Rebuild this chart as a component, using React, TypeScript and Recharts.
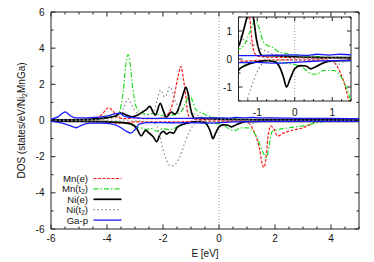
import React from 'react';
import { LineChart, Line, XAxis, YAxis, ReferenceLine, ReferenceArea } from 'recharts';

type Pt = [number, number];

// energy [eV], DOS [states/eV/Ni2MnGa]; "Up" = majority (positive), "Dn" = minority (negative)
const mnEUp: Pt[] = [
  [-6, 0.03], [-5, 0.05], [-4.5, 0.1], [-4.2, 0.3], [-3.95, 0.7], [-3.8, 0.55], [-3.6, 0.15],
  [-3.3, 0.1], [-3.0, 0.15], [-2.6, 0.1], [-2.2, 0.1], [-1.95, 0.2], [-1.8, 0.4], [-1.68, 0.8],
  [-1.57, 1.6], [-1.45, 2.5], [-1.36, 3.0], [-1.28, 2.4], [-1.2, 1.5], [-1.13, 0.55],
  [-1.07, 0.2], [-0.9, 0.08], [-0.5, 0.06], [0, 0.05], [1, 0.03], [5, 0.02],
];
const mnEDn: Pt[] = [
  [-6, -0.02], [-4, -0.05], [-3.6, -0.15], [-3.3, -0.12], [-3, -0.08], [-2, -0.08], [-1.5, -0.08],
  [-1, -0.05], [0, -0.03], [0.5, -0.03], [0.95, -0.05], [1.1, -0.2], [1.22, -0.5], [1.35, -1.0],
  [1.45, -1.6], [1.53, -2.3], [1.6, -2.6], [1.67, -2.2], [1.75, -0.9], [1.85, -0.3], [1.95, -0.45],
  [2.1, -0.86], [2.3, -0.7], [2.6, -0.55], [3.0, -0.4], [3.3, -0.2], [3.5, -0.05], [5, -0.02],
];
const mnT2Up: Pt[] = [
  [-6, 0.03], [-5, 0.05], [-4.3, 0.1], [-4.0, 0.2], [-3.7, 0.25], [-3.55, 0.5], [-3.42, 1.6],
  [-3.3, 3.4], [-3.25, 3.65], [-3.18, 3.2], [-3.08, 1.8], [-2.97, 0.8], [-2.85, 0.5], [-2.7, 0.4],
  [-2.5, 0.35], [-2.3, 0.4], [-2.1, 0.3], [-1.9, 0.25], [-1.7, 0.3], [-1.5, 0.35], [-1.35, 0.5],
  [-1.2, 0.95], [-1.05, 1.38], [-0.95, 1.1], [-0.85, 0.65], [-0.75, 0.5], [-0.6, 0.42],
  [-0.45, 0.28], [-0.25, 0.2], [0, 0.12], [0.5, 0.1], [1, 0.06], [2, 0.05], [3, 0.04], [5, 0.03],
];
const mnT2Dn: Pt[] = [
  [-6, -0.02], [-4, -0.05], [-3.5, -0.1], [-3.2, -0.2], [-3.0, -0.35], [-2.8, -0.4], [-2.6, -0.5],
  [-2.4, -0.45], [-2.2, -0.6], [-2.0, -0.45], [-1.8, -0.5], [-1.6, -0.45], [-1.5, -0.35],
  [-1.3, -0.2], [-1.0, -0.1], [-0.75, -0.06], [-0.5, -0.1], [-0.2, -0.15], [0, -0.2], [0.2, -0.3],
  [0.4, -0.5], [0.57, -0.55], [0.78, -0.41], [1.04, -0.41], [1.22, -0.6], [1.39, -1.06],
  [1.55, -1.7], [1.7, -2.05], [1.8, -1.3], [1.9, -0.6], [2.1, -0.5], [2.5, -0.4], [3.0, -0.3],
  [3.5, -0.12], [4, -0.03], [5, -0.02],
];
const niEUp: Pt[] = [
  [-6, 0.03], [-5, 0.05], [-4.5, 0.08], [-4, 0.15], [-3.7, 0.25], [-3.5, 0.42], [-3.3, 0.3],
  [-3.1, 0.2], [-2.9, 0.3], [-2.75, 0.45], [-2.6, 0.6], [-2.47, 0.78], [-2.35, 0.45],
  [-2.27, 0.3], [-2.1, 0.95], [-1.98, 0.5], [-1.88, 0.18], [-1.7, 0.47], [-1.58, 0.35],
  [-1.47, 0.55], [-1.35, 1.1], [-1.25, 1.6], [-1.18, 1.85], [-1.1, 1.45], [-1.02, 0.7],
  [-0.95, 0.3], [-0.87, 0.12], [-0.6, 0.12], [-0.3, 0.1], [0, 0.08], [0.5, 0.06], [1, 0.05],
  [2, 0.05], [3, 0.04], [5, 0.02],
];
const niEDn: Pt[] = [
  [-6, -0.03], [-5, -0.05], [-4, -0.08], [-3.5, -0.1], [-3.3, -0.15], [-3.12, -0.2],
  [-2.94, -0.43], [-2.78, -0.85], [-2.62, -0.55], [-2.48, -0.72], [-2.35, -0.9], [-2.23, -1.17],
  [-2.1, -0.75], [-1.98, -0.6], [-1.87, -0.75], [-1.75, -0.65], [-1.62, -0.7], [-1.5, -0.4],
  [-1.3, -0.22], [-1.0, -0.1], [-0.7, -0.06], [-0.5, -0.12], [-0.38, -0.35], [-0.3, -0.65],
  [-0.22, -1.0], [-0.12, -0.7], [0, -0.35], [0.15, -0.24], [0.3, -0.25], [0.43, -0.35],
  [0.6, -0.25], [0.8, -0.12], [1.0, -0.07], [1.5, -0.05], [3, -0.05], [5, -0.05],
];
const niT2Up: Pt[] = [
  [-6, 0.02], [-4.5, 0.05], [-3.8, 0.12], [-3.55, 0.25], [-3.4, 0.7], [-3.25, 1.2], [-3.1, 0.8],
  [-2.95, 0.45], [-2.8, 0.35], [-2.6, 0.3], [-2.45, 0.35], [-2.3, 0.6], [-2.2, 1.2],
  [-2.08, 1.68], [-1.95, 1.3], [-1.85, 1.5], [-1.76, 1.87], [-1.65, 1.5], [-1.57, 1.1],
  [-1.45, 0.8], [-1.3, 0.65], [-1.05, 0.47], [-0.8, 0.3], [-0.45, 0.12], [0, 0.05], [1, 0.03],
  [5, 0.02],
];
const niT2Dn: Pt[] = [
  [-6, -0.02], [-3, -0.03], [-2.4, -0.08], [-2.25, -0.2], [-2.12, -0.8], [-2.0, -1.6],
  [-1.87, -2.2], [-1.75, -2.5], [-1.62, -2.5], [-1.52, -2.35], [-1.4, -2.0], [-1.26, -1.41],
  [-1.1, -0.77], [-0.91, -0.24], [-0.7, -0.06], [-0.3, -0.04], [0.8, -0.05], [1.0, -0.1],
  [1.15, -0.2], [1.3, -0.1], [1.6, -0.05], [5, -0.02],
];
const gaUp: Pt[] = [
  [-6, 0.08], [-5.75, 0.2], [-5.5, 0.48], [-5.3, 0.25], [-5.1, 0.15], [-4.8, 0.15], [-4.5, 0.17],
  [-4.2, 0.2], [-3.9, 0.28], [-3.7, 0.38], [-3.55, 0.4], [-3.4, 0.25], [-3.2, 0.18], [-3.0, 0.15],
  [-2.5, 0.12], [-2, 0.12], [-1.5, 0.12], [-1, 0.12], [-0.5, 0.14], [0, 0.15], [0.3, 0.13],
  [0.6, 0.17], [0.9, 0.14], [1.2, 0.17], [1.5, 0.15], [2, 0.15], [3, 0.12], [4, 0.12], [5, 0.1],
];
const gaDn: Pt[] = [
  [-6, -0.05], [-5.6, -0.15], [-5.3, -0.3], [-5.1, -0.4], [-4.9, -0.25], [-4.6, -0.15],
  [-4.2, -0.15], [-3.8, -0.2], [-3.5, -0.4], [-3.3, -0.6], [-3.15, -0.7], [-3.0, -0.5],
  [-2.85, -0.2], [-2.5, -0.12], [-2, -0.12], [-1.5, -0.13], [-1, -0.12], [-0.5, -0.15],
  [0, -0.12], [0.5, -0.08], [1, -0.06], [2, -0.05], [3, -0.05], [5, -0.05],
];

const mainXTicks = [-6, -5.5, -5, -4.5, -4, -3.5, -3, -2.5, -2, -1.5, -1, -0.5, 0, 0.5, 1, 1.5, 2, 2.5, 3, 3.5, 4, 4.5, 5];
const mainXLabels = [-6, -4, -2, 0, 2, 4];
const mainYTicks = [-6, -5, -4, -3, -2, -1, 0, 1, 2, 3, 4, 5, 6];
const mainYLabels = [-6, -4, -2, 0, 2, 4, 6];
const insetXTicks = [-1.5, -1.25, -1, -0.75, -0.5, -0.25, 0, 0.25, 0.5, 0.75, 1, 1.25, 1.5];
const insetYTicks = [-1.5, -1, -0.5, 0, 0.5, 1, 1.5];
const insetLabels = [-1, 0, 1];

const series = [
  { name: 'Mn(e)', sub: '', up: mnEUp, dn: mnEDn, color: '#ff1a1a', width: 1.2, dash: '3 1.5' },
  { name: 'Mn(t', sub: '2', up: mnT2Up, dn: mnT2Dn, color: '#22dd22', width: 1.2, dash: '5 2 1.5 2' },
  { name: 'Ni(e)', sub: '', up: niEUp, dn: niEDn, color: '#000000', width: 1.7, dash: undefined },
  { name: 'Ni(t', sub: '2', up: niT2Up, dn: niT2Dn, color: '#888888', width: 1.2, dash: '1.5 2.5' },
  { name: 'Ga-p', sub: '', up: gaUp, dn: gaDn, color: '#1a1aff', width: 1.3, dash: undefined },
];

const FONT = '"Liberation Sans", Arial, Helvetica, sans-serif';
const FRAME = '#222';

const toPts = (arr: Pt[]) => arr.map(([e, v]) => ({ e, v }));

function xTick(top: number, bottom: number, labelY: number, labels: number[], major: number, minor: number) {
  return (p: any) => {
    const v = p.payload.value;
    const isMajor = labels.includes(v);
    const len = isMajor ? major : minor;
    return (
      <g>
        <line x1={p.x} x2={p.x} y1={bottom} y2={bottom - len} stroke={FRAME} />
        <line x1={p.x} x2={p.x} y1={top} y2={top + len} stroke={FRAME} />
        {isMajor && (
          <text x={p.x} y={labelY} textAnchor="middle" fontFamily={FONT} fontSize={10} fill="#111">
            {String(v)}
          </text>
        )}
      </g>
    );
  };
}

function yTick(left: number, right: number, labels: number[], major: number, minor: number) {
  return (p: any) => {
    const v = p.payload.value;
    const isMajor = labels.includes(v);
    const len = isMajor ? major : minor;
    return (
      <g>
        <line x1={left} x2={left + len} y1={p.y} y2={p.y} stroke={FRAME} />
        <line x1={right} x2={right - len} y1={p.y} y2={p.y} stroke={FRAME} />
        {isMajor && (
          <text x={left - 6.5} y={p.y + 3.6} textAnchor="end" fontFamily={FONT} fontSize={10} fill="#111">
            {String(v)}
          </text>
        )}
      </g>
    );
  };
}

function curves(prefix: string) {
  const out: React.ReactElement[] = [];
  series.forEach((s, i) => {
    [s.up, s.dn].forEach((arr, j) => {
      out.push(
        <Line
          key={`${prefix}-${i}-${j}`}
          data={toPts(arr)}
          dataKey="v"
          type="monotone"
          stroke={s.color}
          strokeWidth={s.width}
          strokeDasharray={s.dash}
          dot={false}
          activeDot={false}
          isAnimationActive={false}
        />
      );
    });
  });
  return out;
}

export default function App() {
  return (
    <div style={{ position: 'relative', width: 374, height: 262, background: '#fff' }}>
      <style>{'body{margin:0}'}</style>
      <div style={{ position: 'absolute', left: 0, top: 0 }}>
        <LineChart width={374} height={262} margin={{ top: 12, right: 15, bottom: 0, left: 0 }}>
          <XAxis
            type="number"
            dataKey="e"
            domain={[-6, 5]}
            ticks={mainXTicks}
            interval={0}
            height={33}
            axisLine={false}
            tickLine={false}
            allowDataOverflow
            tick={xTick(12, 229, 242, mainXLabels, 4.5, 2.5)}
          />
          <YAxis
            type="number"
            domain={[-6, 6]}
            ticks={mainYTicks}
            interval={0}
            width={51}
            axisLine={false}
            tickLine={false}
            allowDataOverflow
            tick={yTick(51, 359, mainYLabels, 4.5, 2.5)}
          />
          <ReferenceLine x={0} stroke="#999" strokeDasharray="1 2" />
          {curves('m')}
          <ReferenceArea x1={-6} x2={5} y1={-6} y2={6} fill="none" stroke={FRAME} strokeWidth={1} />
        </LineChart>
      </div>

      <svg width={374} height={262} style={{ position: 'absolute', left: 0, top: 0, pointerEvents: 'none' }}>
        <text x={205} y={257} textAnchor="middle" fontFamily={FONT} fontSize={10} fill="#111">E [eV]</text>
        <text transform="rotate(-90)" x={-120.5} y={24.5} textAnchor="middle" fontFamily={FONT} fontSize={10} fill="#111">
          DOS (states/eV/Ni<tspan dy={2} fontSize={7}>2</tspan><tspan dy={-2}>MnGa)</tspan>
        </text>
        {series.map((s, i) => {
          const y = 178.5 + i * 10.4;
          return (
            <g key={s.name + i}>
              <text x={88} y={y + 3.4} textAnchor="end" fontFamily={FONT} fontSize={9.6} fill="#111">
                {s.name}
                {s.sub && <tspan dy={1.6} fontSize={6.5}>{s.sub}</tspan>}
                {s.sub && <tspan dy={-1.6}>)</tspan>}
              </text>
              <line x1={93.5} x2={121.5} y1={y} y2={y} stroke={s.color} strokeWidth={s.width} strokeDasharray={s.dash} />
            </g>
          );
        })}
      </svg>

      <div style={{ position: 'absolute', left: 238.5, top: 17, width: 112.5, height: 84, background: '#fff' }} />
      <div style={{ position: 'absolute', left: 218, top: 10 }}>
        <LineChart width={140} height={110} margin={{ top: 7, right: 7, bottom: 0, left: 0 }}>
          <XAxis
            type="number"
            dataKey="e"
            domain={[-1.5, 1.5]}
            ticks={insetXTicks}
            interval={0}
            height={19}
            axisLine={false}
            tickLine={false}
            allowDataOverflow
            tick={xTick(7, 91, 106.3, insetLabels, 4, 2)}
          />
          <YAxis
            type="number"
            domain={[-1.5, 1.5]}
            ticks={insetYTicks}
            interval={0}
            width={20.5}
            axisLine={false}
            tickLine={false}
            allowDataOverflow
            tick={yTick(20.5, 133, insetLabels, 4, 2)}
          />
          <ReferenceLine x={0} stroke="#999" strokeDasharray="1 2" />
          {curves('i')}
          <ReferenceArea x1={-1.5} x2={1.5} y1={-1.5} y2={1.5} fill="none" stroke={FRAME} strokeWidth={1} />
        </LineChart>
      </div>
    </div>
  );
}
